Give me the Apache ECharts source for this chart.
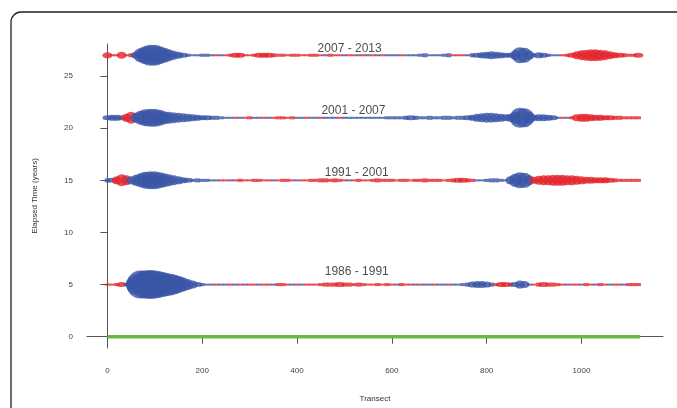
<!DOCTYPE html>
<html>
<head>
<meta charset="utf-8">
<title>Elapsed Time vs Transect</title>
<script src="https://cdn.jsdelivr.net/npm/echarts@6/dist/echarts.min.js"></script>
<style>
  html, body { margin: 0; padding: 0; background: #fff; }
  #chart { width: 677px; height: 408px; }
</style>
</head>
<body>
<div id="chart"></div>
<script>
// one value every 10th transect, from transect 0 to 1120
// sign: + blue, - red ; magnitude = marker diameter
const transectStep = 10;

const row2007 = [
  -6,-2,-2,-7,-2,-4,7,14,18,21,
  21,18,15,12,9,7,5,3,2,2,
  3,3,2,-2,2,-2,-3,-5,-5,-2,
  -2,-3,-5,-5,-5,-4,-3,-3,-2,-3,
  -3,-2,-2,-3,-3,-2,2,-3,-2,-2,
  2,-2,-2,2,-2,2,-2,2,-2,2,
  2,2,-2,2,2,2,3,4,2,2,
  2,3,4,-2,-2,-2,2,4,5,6,
  7,8,7,6,5,5,10,16,15,9,
  4,6,5,3,2,2,-2,-3,-5,-8,
  -10,-11,-12,-12,-11,-10,-8,-6,-5,-4,
  -3,-3,-5
];
const row2001 = [
  5,6,6,5,-8,-12,10,14,17,18,
  18,16,13,12,11,10,9,8,7,6,
  5,5,4,4,3,2,2,-2,2,-2,
  -3,2,2,-2,2,-2,-3,-3,-2,-3,
  2,2,-2,2,2,-2,2,2,2,-2,
  2,2,2,2,2,2,2,2,2,3,
  3,3,3,4,5,4,3,3,4,3,
  3,4,4,3,4,4,5,6,8,9,
  10,10,9,8,7,8,12,20,19,12,
  6,7,7,6,5,2,-2,2,-3,-7,
  -8,-8,-7,-6,-6,-5,-5,-4,-4,-3,
  -3,-3,-3
];
const row1991 = [
  4,5,-8,-12,-10,8,11,14,17,18,
  18,16,14,12,10,8,6,5,3,4,
  3,3,2,2,-2,-2,2,-2,-3,-2,
  -2,-3,-3,-2,-2,2,-2,-3,-3,-2,
  2,-2,-2,-3,-3,-4,-4,-3,-4,-3,
  -2,2,-2,-3,-2,-2,-3,-4,-3,-3,
  -3,-2,-3,-3,-2,-3,-3,-4,-3,-3,
  -3,-2,-3,-4,-5,-5,-4,-3,2,2,
  3,4,4,3,2,8,13,16,15,10,
  -7,-9,-10,-10,-11,-11,-11,-10,-10,-9,
  -8,-7,-7,-6,-6,-6,-5,-4,-3,-3,
  -3,-3,-3
];
const row1986 = [
  -2,-2,-3,-5,3,10,20,28,28,29,
  28,26,24,22,20,17,14,11,8,5,
  3,2,2,-2,2,2,-2,2,-2,2,
  -2,-2,2,-2,-2,2,-3,-3,-2,2,
  -2,2,-2,-2,-2,-3,-4,-4,-4,-5,
  -4,-4,-3,-4,-3,-2,-2,-3,-2,-3,
  -2,2,-3,-2,-2,2,-2,2,2,-2,
  2,2,-2,2,2,3,4,6,7,7,
  6,4,-3,-5,-5,-4,5,8,7,2,
  -2,-4,-5,-4,-4,-3,-2,2,-2,-2,
  2,-3,-2,2,-3,-2,2,-2,-2,2,
  -3,-3,-3
];

const rows = [row2007, row2001, row1991, row1986];
const rowYears = [27, 21, 15, 5];

const periodLabels = ['2007 - 2013', '2001 - 2007', '1991 - 2001', '1986 - 1991'];
const periodLabelX = [511, 519, 526, 526];
const periodLabelY = [27.6, 21.7, 15.75, 6.25];

// green reference line at 0
const baselineX = [0, 1124];
const baselineY = [0, 0];

const xTicks = [0, 200, 400, 600, 800, 1000];
const yTicks = [0, 5, 10, 15, 20, 25];

const BLUE = '#3a55a6';
const RED = '#e3232a';
// circle drawn as a path so it can be stretched into an ellipse
const ELLIPSE = 'path://M0,50A50,50 0 1,1 100,50A50,50 0 1,1 0,50Z';

function rowItems(values, y) {
  return values.map((v, i) => {
    const size = Math.abs(v);
    const small = size < 5;
    return {
      value: [i * transectStep, y],
      symbol: small ? 'rect' : ELLIPSE,
      symbolSize: small ? [5.2, size] : [Math.max(size, 10), size],
      symbolKeepAspect: false,
      itemStyle: { color: v > 0 ? BLUE : RED }
    };
  });
}

const rowSeries = rows.map((r, k) => ({
  type: 'scatter',
  silent: true,
  animation: false,
  data: rowItems(r, rowYears[k]),
  z: 3
}));

const axisGrey = '#555';
const tickFont = 'Liberation Sans';

const option = {
  backgroundColor: '#fff',
  graphic: [{
    type: 'rect',
    shape: { x: 11, y: 12, width: 720, height: 440, r: 10 },
    style: { fill: 'none', stroke: '#222', lineWidth: 1.3 },
    silent: true
  }],
  grid: { left: 87, right: 14, top: 44, bottom: 56.5 },
  xAxis: {
    type: 'value',
    min: -43,
    max: 1172,
    name: 'Transect',
    nameLocation: 'middle',
    nameGap: 47,
    nameTextStyle: { fontSize: 8, color: '#333', fontFamily: tickFont },
    splitLine: { show: false },
    axisLine: { show: true, lineStyle: { color: axisGrey, width: 1 } },
    axisTick: { show: true, length: 7, customValues: xTicks, lineStyle: { color: axisGrey } },
    axisLabel: {
      customValues: xTicks,
      formatter: v => String(v),
      margin: 19, fontSize: 8, color: '#444', fontFamily: tickFont
    }
  },
  yAxis: {
    type: 'value',
    min: -1.08,
    max: 28.08,
    name: 'Elapsed Time (years)',
    nameLocation: 'middle',
    nameGap: 48,
    nameRotate: 90,
    nameTextStyle: { fontSize: 8, color: '#333', fontFamily: tickFont },
    splitLine: { show: false },
    axisLine: { show: true, lineStyle: { color: axisGrey, width: 1 } },
    axisTick: { show: true, length: 7, customValues: yTicks, lineStyle: { color: axisGrey } },
    axisLabel: {
      customValues: yTicks,
      formatter: v => String(v),
      margin: 14, fontSize: 8, color: '#444', fontFamily: tickFont
    }
  },
  series: [
    {
      type: 'line',
      silent: true,
      animation: false,
      symbol: 'none',
      data: baselineX.map((x, i) => [x, baselineY[i]]),
      lineStyle: { color: '#6cb83f', width: 3.5 },
      z: 2
    },
    ...rowSeries,
    {
      type: 'scatter',
      silent: true,
      animation: false,
      symbolSize: 1,
      itemStyle: { color: 'rgba(0,0,0,0)' },
      data: periodLabels.map((name, i) => ({ name: name, value: [periodLabelX[i], periodLabelY[i]] })),
      label: {
        show: true,
        position: 'inside',
        formatter: p => p.name,
        fontSize: 12,
        color: '#1a1a1a',
        fontFamily: 'Liberation Sans'
      },
      z: 5
    }
  ]
};

const myChart = echarts.init(document.getElementById('chart'));
myChart.setOption(option);
</script>
</body>
</html>
